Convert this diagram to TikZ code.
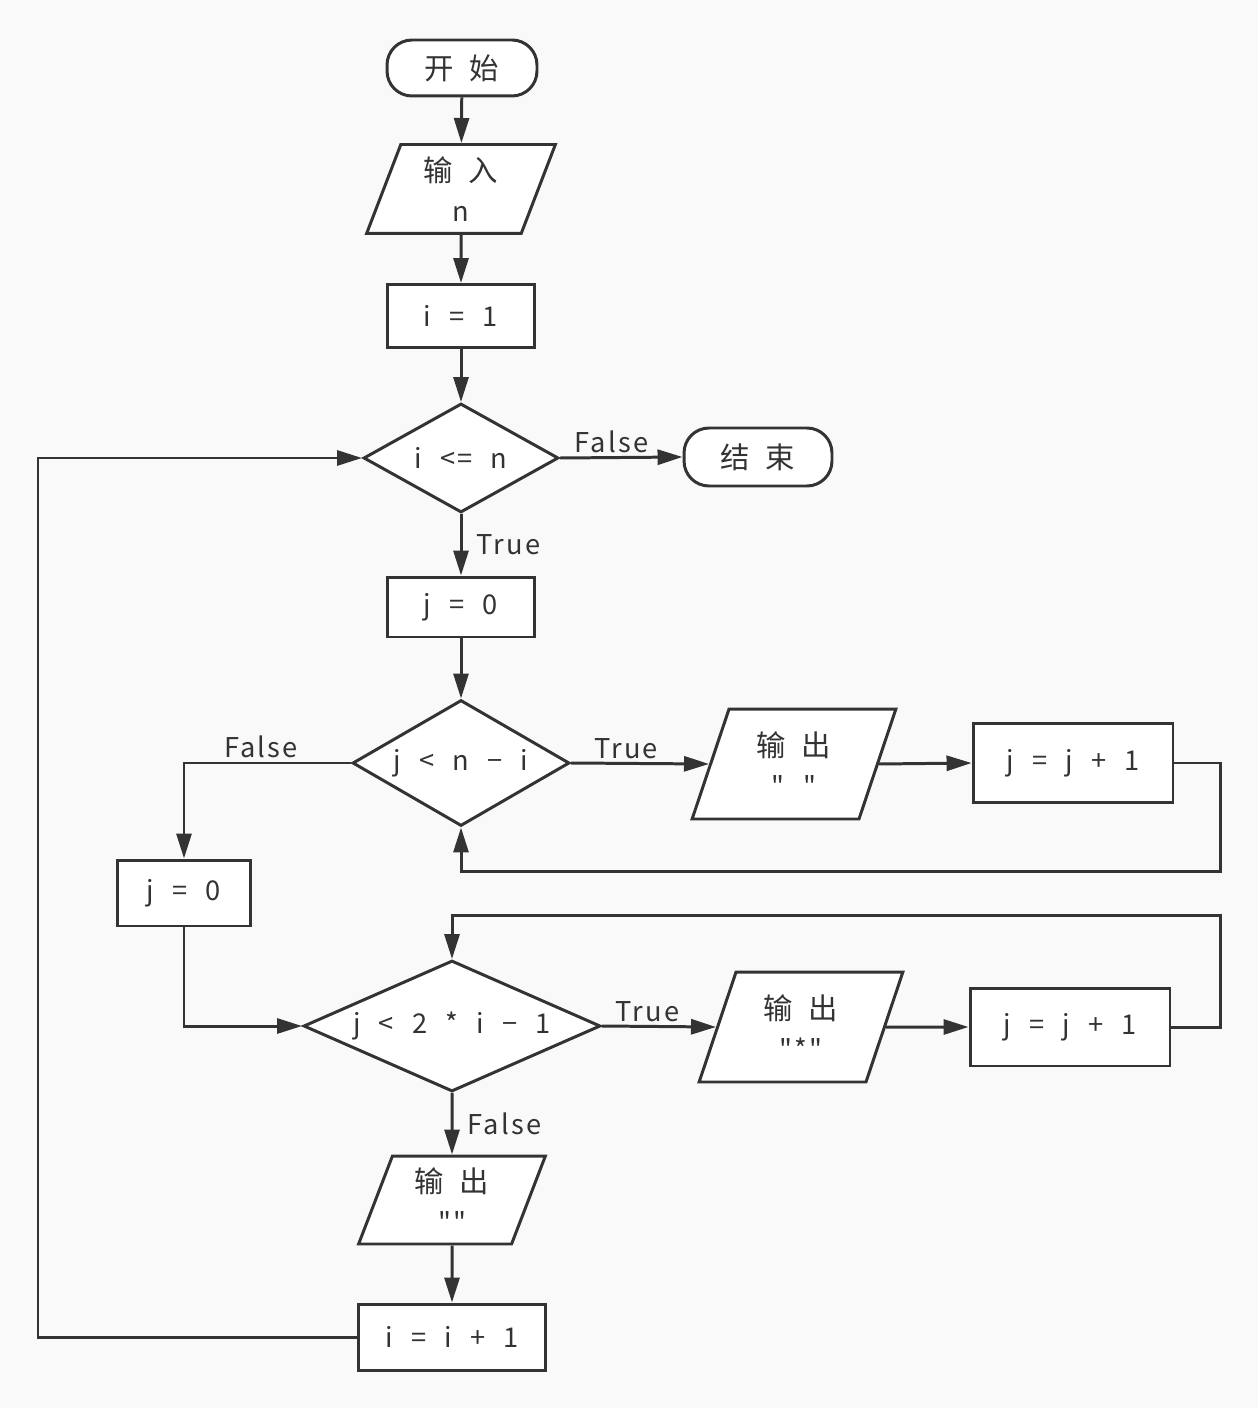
\documentclass[tikz,border=0pt]{standalone}
\usepackage{fontspec}
\setmainfont{Noto Sans CJK SC}[Ligatures=TeXOff, LetterSpace=8, WordSpace=2.2]
\newfontfamily\cjk{Noto Sans CJK SC}[Ligatures=TeXOff, Scale=1.08, WordSpace=2.4]
\newcommand{\dquote}{\char34\relax}
\usetikzlibrary{shapes.geometric, arrows.meta}
\definecolor{ink}{HTML}{333333}
\definecolor{fond}{HTML}{F9F9F9}

\begin{document}
\begin{tikzpicture}[x=0.02cm, y=-0.02cm, >={Triangle[length=0.5cm, width=0.3cm]},
    every node/.style={font=\fontsize{15.5pt}{21pt}\selectfont, text=ink},
    terminal/.style={draw=ink, line width=1.7pt, fill=white, rounded corners=0.5cm, inner sep=0pt},
    procbox/.style={draw=ink, line width=1.7pt, fill=white, inner sep=0pt},
    iobox/.style={trapezium, trapezium left angle=72, trapezium right angle=108, trapezium stretches=true,
        draw=ink, line width=1.7pt, fill=white, inner sep=0pt, align=center},
    decision/.style={diamond, draw=ink, line width=1.7pt, fill=white, inner sep=0pt},
    flow/.style={->, draw=ink, line width=1.7pt},
    lbl/.style={inner sep=2pt}]

    % Fond
    \fill[fond] (0,0) rectangle (1258,1408);

    % Debut et lecture
    \node[terminal, minimum width=3cm, minimum height=1.12cm] (debut) at (462,68) {\cjk 开 始};
    \node[iobox, minimum width=3.78cm, minimum height=1.78cm] (lire) at (461,189) {{\cjk 输 入}\\[2pt] n};
    \node[procbox, minimum width=2.94cm, minimum height=1.26cm] (iun) at (461,316) {i = 1};

    % Boucle sur i
    \node[decision, aspect=1.79, minimum width=3.9cm, minimum height=2.18cm] (testi) at (461,458) {i <= n};
    \node[terminal, minimum width=2.96cm, minimum height=1.16cm] (fin) at (758,457) {\cjk 结 束};
    \node[procbox, minimum width=2.94cm, minimum height=1.2cm] (jzero) at (461,607) {j = 0};

    % Espaces
    \node[decision, aspect=1.72, minimum width=4.34cm, minimum height=2.52cm] (testj) at (461,763) {j < n − i};
    \node[iobox, minimum width=4.08cm, minimum height=2.2cm] (espace) at (794,764) {{\cjk 输 出}\\[2pt] \dquote\ \dquote};
    \node[procbox, minimum width=4cm, minimum height=1.58cm] (jplus) at (1073,763) {j = j + 1};

    % Etoiles
    \node[procbox, minimum width=2.66cm, minimum height=1.32cm] (jzerob) at (184,893) {j = 0};
    \node[decision, aspect=2.27, minimum width=5.94cm, minimum height=2.62cm] (testk) at (452,1026) {j < 2 * i − 1};
    \node[iobox, minimum width=4.08cm, minimum height=2.2cm] (etoile) at (801,1027) {{\cjk 输 出}\\[2pt] \dquote*\dquote};
    \node[procbox, minimum width=4cm, minimum height=1.56cm] (jplusb) at (1070,1027) {j = j + 1};

    % Fin de ligne
    \node[iobox, minimum width=3.74cm, minimum height=1.76cm] (ligne) at (452,1200) {{\cjk 输 出}\\[2pt] \dquote\dquote};
    \node[procbox, minimum width=3.76cm, minimum height=1.32cm] (iplus) at (452,1337) {i = i + 1};

    % Points de retour
    \coordinate (retj) at (1220,871);
    \coordinate (retk) at (1220,915);
    \coordinate (reti) at (38,458);

    % Liaisons
    \draw[flow] (debut) -- (lire);
    \draw[flow] (lire) -- (iun);
    \draw[flow] (iun) -- (testi);
    \draw[flow] (testi.east) -- (fin.west) node[lbl, pos=0.42, above] (lf) {False};
    \draw[flow] (testi.south) -- (jzero.north) node[lbl, midway, right, xshift=6pt] (lt) {True};
    \draw[flow] (jzero) -- (testj);
    \draw[flow] (testj.east) -- (espace.west) node[lbl, pos=0.4, above] (ltj) {True};
    \draw[flow] (espace.east) -- (jplus.west);
    \draw[flow] (jplus.east) -| (retj) -| (testj.south);
    \draw[flow] (testj.west) -| (jzerob.north) node[lbl, pos=0.27, above] (lfj) {False};
    \draw[flow] (jzerob.south) |- (testk.west);
    \draw[flow] (testk.east) -- (etoile.west) node[lbl, pos=0.4, above] (ltk) {True};
    \draw[flow] (etoile.east) -- (jplusb.west);
    \draw[flow] (jplusb.east) -| (retk) -| (testk.north);
    \draw[flow] (testk.south) -- (ligne.north) node[lbl, midway, right, xshift=6pt] (lfk) {False};
    \draw[flow] (ligne) -- (iplus);
    \draw[flow] (iplus.west) -| (reti) -- (testi.west);
\end{tikzpicture}
\end{document}
